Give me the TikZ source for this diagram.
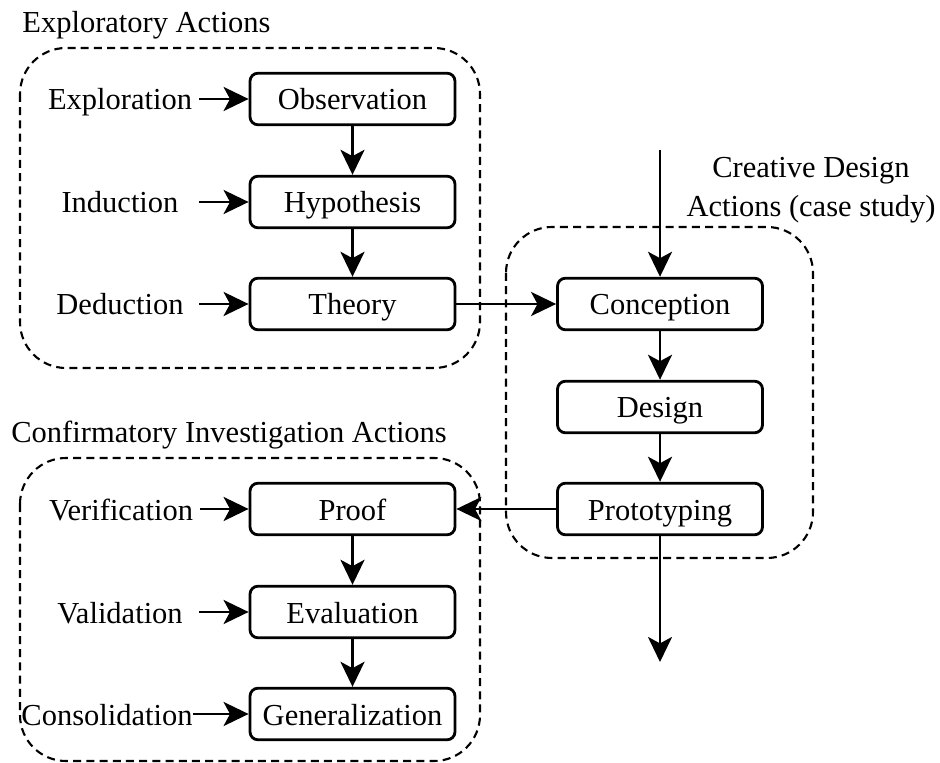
\documentclass[tikz,border=0pt]{standalone}
\usepackage{fontspec}
\setmainfont{Liberation Serif}
\usetikzlibrary{arrows.meta}
\tikzset{
  x=0.5pt, y=-0.5pt,
  every node/.style={font=\fontsize{15.25}{19.5}\selectfont},
  box/.style={draw, line width=1.4pt, rounded corners=4pt, minimum width=102.5pt, minimum height=25.8pt, inner sep=0pt, text height=11pt, text depth=0pt},
  lab/.style={inner sep=0pt, minimum width=79pt, text height=11pt, text depth=0pt},
  arr/.style={line width=1.35pt, -{Stealth[length=12.5pt, width=12pt, inset=3.2pt]}},
  grp/.style={draw, line width=1.05pt, dash pattern=on 4pt off 2.6pt, rounded corners=23pt},
}
\begin{document}
\begin{tikzpicture}
\useasboundingbox (0,0) rectangle (940,763);
\begin{scope}
\clip (0,0) rectangle (940,763);
% group frames
\draw[grp] (20,48) rectangle (480,368);
\draw[grp] (506,227) rectangle (813,558);
\draw[grp] (20,458) rectangle (480,761);
\end{scope}
% titles
\node[anchor=base west, inner sep=0pt] (t1) at (22,33) {Exploratory Actions};
\node[anchor=base west, inner sep=0pt] (t2) at (11,443) {Confirmatory Investigation Actions};
\node[align=center, inner sep=0pt] (t3) at (811,190) {Creative Design\\Actions (case study)};
% left top boxes
\node[box] (obs) at (352.5,99) {Observation};
\node[box] (hyp) at (352.5,202) {Hypothesis};
\node[box] (the) at (352.5,304) {Theory};
% right boxes
\node[box] (con) at (660,304) {Conception};
\node[box] (des) at (660,407) {Design};
\node[box] (pro) at (660,509) {Prototyping};
% left bottom boxes
\node[box] (prf) at (352.5,509) {Proof};
\node[box] (eva) at (352.5,612) {Evaluation};
\node[box] (gen) at (352.5,714) {Generalization};
% labels
\node[lab] (l1) at (120,99) {Exploration};
\node[lab] (l2) at (120,202) {Induction};
\node[lab] (l3) at (120,304) {Deduction};
\node[lab] (l4) at (121,509) {Verification};
\node[lab] (l5) at (120,612) {Validation};
\node[lab] (l6) at (107,714) {Consolidation};
% free ends
\coordinate (in) at (660,150);
\coordinate (out) at (660,662);
% connectors
\draw[arr] (l1.east) -- (obs);
\draw[arr] (l2.east) -- (hyp);
\draw[arr] (l3.east) -- (the);
\draw[arr] (l4.east) -- (prf);
\draw[arr] (l5.east) -- (eva);
\draw[arr] (l6.east) -- (gen);
\draw[arr] (obs) -- (hyp);
\draw[arr] (hyp) -- (the);
\draw[arr] (prf) -- (eva);
\draw[arr] (eva) -- (gen);
\draw[arr] (con) -- (des);
\draw[arr] (des) -- (pro);
\draw[arr] (in) -- (con);
\draw[arr] (pro) -- (out);
\draw[arr] (the) -- (con);
\draw[arr] (pro) -- (prf);
\end{tikzpicture}
\end{document}
